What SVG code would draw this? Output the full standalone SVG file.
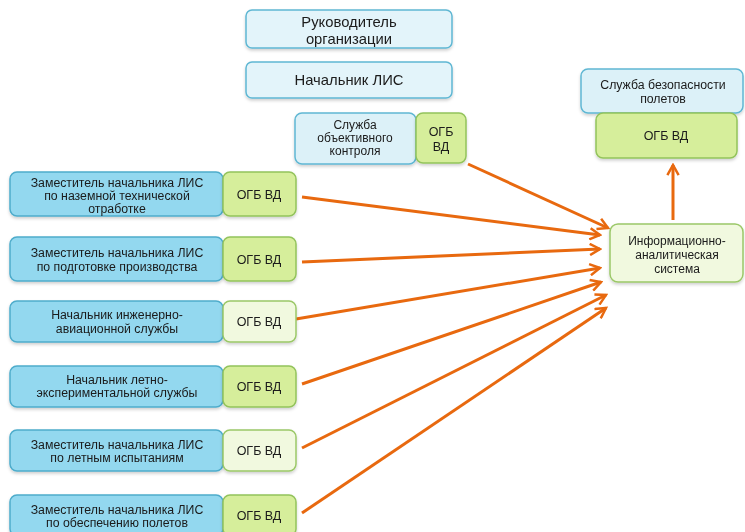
<svg xmlns="http://www.w3.org/2000/svg" width="745" height="532" viewBox="0 0 745 532">
<style>
.top{fill:#e3f4fa;stroke:#5fb7d3;stroke-width:1.5}
.blue{fill:#93d8ef;stroke:#4eaccb;stroke-width:1.5}
.lb{fill:#dcf1f8;stroke:#5fb7d3;stroke-width:1.5}
.g{fill:#d6ee9b;stroke:#93c35b;stroke-width:1.5}
.gl{fill:#f1f9df;stroke:#9bc868;stroke-width:1.5}
text{font-family:"Liberation Sans",Arial,sans-serif;fill:#1a1a1a;text-anchor:middle}
.t14{font-size:14.8px}
.t11{font-size:12.3px}
.ts{font-size:12px}
.t12{font-size:12.5px}
.con{stroke:#e8690f;stroke-width:3;fill:none;marker-end:url(#ah)}
</style>
<defs>
<marker id="ah" viewBox="0 0 12 12" refX="10" refY="6" markerWidth="4.5" markerHeight="4.5" orient="auto" markerUnits="strokeWidth">
<path d="M1,1 L10,6 L1,11" fill="none" stroke="#e8690f" stroke-width="2.2"/>
</marker>
<filter id="sh" x="-10%" y="-10%" width="120%" height="130%">
<feDropShadow dx="0" dy="2" stdDeviation="1.5" flood-color="#000" flood-opacity="0.18"/>
</filter>
</defs>
<rect width="745" height="532" fill="#ffffff"/>

<g id="connectors">
<line class="con" x1="468" y1="164" x2="608" y2="228"/>
<line class="con" x1="302" y1="197" x2="600" y2="235"/>
<line class="con" x1="302" y1="262" x2="600" y2="249"/>
<line class="con" x1="296" y1="319" x2="600" y2="268"/>
<line class="con" x1="302" y1="384" x2="601" y2="282"/>
<line class="con" x1="302" y1="448" x2="606" y2="295"/>
<line class="con" x1="302" y1="513" x2="606" y2="308"/>
<line class="con" x1="673" y1="220" x2="673" y2="165"/>
</g>

<g id="rukovoditel" filter="url(#sh)">
<rect class="top" x="246" y="10" width="206" height="38" rx="6"/>
<text class="t14" x="349" y="27">Руководитель</text>
<text class="t14" x="349" y="44">организации</text>
</g>
<g id="nachalnik-lis" filter="url(#sh)">
<rect class="top" x="246" y="62" width="206" height="36" rx="6"/>
<text class="t14" x="349" y="85">Начальник ЛИС</text>
</g>

<g id="sluzhba-ok" filter="url(#sh)">
<rect class="lb" x="295" y="113" width="121" height="51" rx="7"/>
<text class="ts" x="355" y="129">Служба</text>
<text class="ts" x="355" y="142">объективного</text>
<text class="ts" x="355" y="155">контроля</text>
</g>
<g id="ogb-ok" filter="url(#sh)">
<rect class="g" x="416" y="113" width="50" height="50" rx="7"/>
<text class="t12" x="441" y="136">ОГБ</text>
<text class="t12" x="441" y="151">ВД</text>
</g>

<g id="sluzhba-bp" filter="url(#sh)">
<rect class="lb" x="581" y="69" width="162" height="44" rx="7"/>
<text class="t11" x="663" y="89">Служба безопасности</text>
<text class="t11" x="663" y="103">полетов</text>
</g>
<g id="ogb-bp" filter="url(#sh)">
<rect class="g" x="596" y="113" width="141" height="45" rx="7"/>
<text class="t12" x="666" y="140">ОГБ ВД</text>
</g>

<g id="ias" filter="url(#sh)">
<rect class="gl" x="610" y="224" width="133" height="58" rx="8"/>
<text class="ts" x="677" y="245">Информационно-</text>
<text class="ts" x="677" y="259">аналитическая</text>
<text class="ts" x="677" y="273">система</text>
</g>

<g id="zam-nto" filter="url(#sh)">
<rect class="blue" x="10" y="172" width="213" height="44" rx="7"/>
<text class="t11" x="117" y="187">Заместитель начальника ЛИС</text>
<text class="t11" x="117" y="200">по наземной технической</text>
<text class="t11" x="117" y="213">отработке</text>
</g>
<g id="ogb-1" filter="url(#sh)">
<rect class="g" x="223" y="172" width="73" height="44" rx="7"/>
<text class="t12" x="259" y="199">ОГБ ВД</text>
</g>

<g id="zam-pp" filter="url(#sh)">
<rect class="blue" x="10" y="237" width="213" height="44" rx="7"/>
<text class="t11" x="117" y="257">Заместитель начальника ЛИС</text>
<text class="t11" x="117" y="271">по подготовке производства</text>
</g>
<g id="ogb-2" filter="url(#sh)">
<rect class="g" x="223" y="237" width="73" height="44" rx="7"/>
<text class="t12" x="259" y="264">ОГБ ВД</text>
</g>

<g id="nach-ias" filter="url(#sh)">
<rect class="blue" x="10" y="301" width="213" height="41" rx="7"/>
<text class="t11" x="117" y="319">Начальник инженерно-</text>
<text class="t11" x="117" y="333">авиационной службы</text>
</g>
<g id="ogb-3" filter="url(#sh)">
<rect class="gl" x="223" y="301" width="73" height="41" rx="7"/>
<text class="t12" x="259" y="326">ОГБ ВД</text>
</g>

<g id="nach-les" filter="url(#sh)">
<rect class="blue" x="10" y="366" width="213" height="41" rx="7"/>
<text class="t11" x="117" y="384">Начальник летно-</text>
<text class="t11" x="117" y="397">экспериментальной службы</text>
</g>
<g id="ogb-4" filter="url(#sh)">
<rect class="g" x="223" y="366" width="73" height="41" rx="7"/>
<text class="t12" x="259" y="391">ОГБ ВД</text>
</g>

<g id="zam-li" filter="url(#sh)">
<rect class="blue" x="10" y="430" width="213" height="41" rx="7"/>
<text class="t11" x="117" y="449">Заместитель начальника ЛИС</text>
<text class="t11" x="117" y="462">по летным испытаниям</text>
</g>
<g id="ogb-5" filter="url(#sh)">
<rect class="gl" x="223" y="430" width="73" height="41" rx="7"/>
<text class="t12" x="259" y="455">ОГБ ВД</text>
</g>

<g id="zam-op" filter="url(#sh)">
<rect class="blue" x="10" y="495" width="213" height="41" rx="7"/>
<text class="t11" x="117" y="514">Заместитель начальника ЛИС</text>
<text class="t11" x="117" y="527">по обеспечению полетов</text>
</g>
<g id="ogb-6" filter="url(#sh)">
<rect class="g" x="223" y="495" width="73" height="41" rx="7"/>
<text class="t12" x="259" y="520">ОГБ ВД</text>
</g>
</svg>
